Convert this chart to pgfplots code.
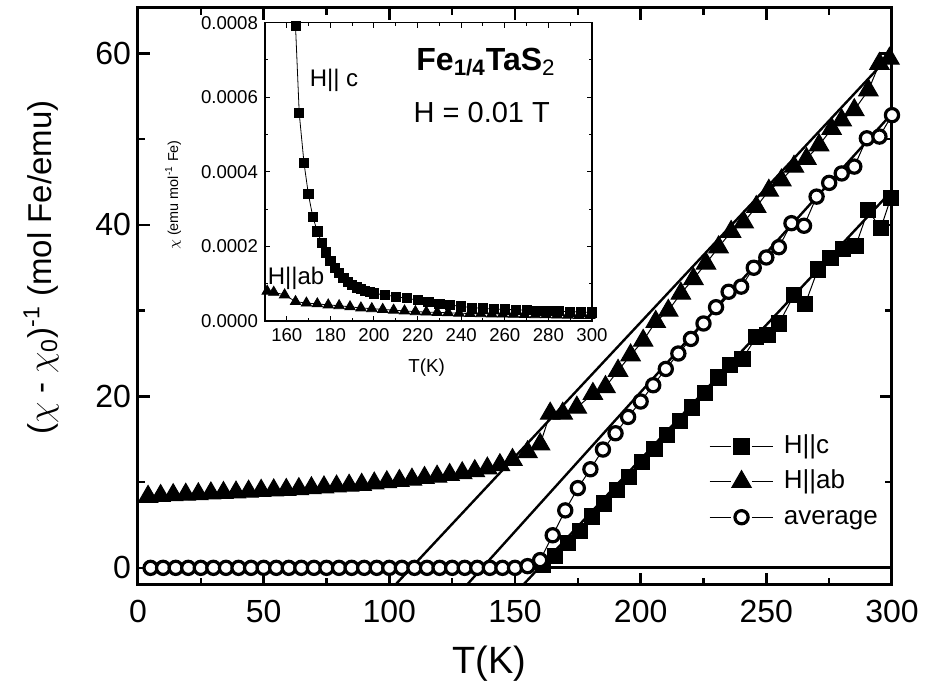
\documentclass[border=0pt]{standalone}
\usepackage{fontspec}
\setmainfont{Liberation Sans}
\usepackage{pgfplots}
\pgfplotsset{compat=1.18}
\begin{document}
\begin{tikzpicture}
\path[use as bounding box] (-69pt,-52.5pt) rectangle (395pt,292.5pt);
\begin{axis}[
  at={(0pt,0pt)}, anchor=south west,
  scale only axis, width=377pt, height=288.5pt,
  xmin=0, xmax=300, ymin=-2, ymax=65.3,
  xtick={0,50,...,300}, minor xtick={25,75,...,275},
  ytick={0,20,40,60}, minor ytick={10,30,50},
  tick align=inside, major tick length=6pt, minor tick length=3.5pt,
  axis line style={line width=1.5pt},
  tick style={line width=1.2pt, black},
  tick label style={font=\fontsize{16}{18}\selectfont},
  /pgf/number format/assume math mode=true,
  xticklabel style={yshift=-4pt},
  xlabel={T(K)},
  ylabel={($\chi$ - $\chi$\textsubscript{0})\textsuperscript{-1} (mol Fe/emu)},
  xlabel style={font=\fontsize{19}{22}\selectfont, at={(axis description cs:0.466,-0.137)}, anchor=center},
  ylabel style={font=\fontsize{16.5}{20}\selectfont, at={(axis description cs:-0.1286,0.55)}, anchor=center},
  legend style={at={(rel axis cs:0.757,0.262)}, anchor=north west, draw=none, fill=none,
    inner sep=0pt, font=\fontsize{13}{15}\selectfont, row sep=5.5pt, column sep=5pt,
    nodes={inner sep=0pt, text height=9.5pt, text depth=2.7pt}},
  legend cell align=left,
  legend image code/.code={
    \draw[mark=none] (0cm,0cm) -- (0.38cm,0cm);
    \draw[mark=none] (0.74cm,0cm) -- (1.12cm,0cm);
    \draw plot coordinates {(0.56cm,0cm)};
  },
]
% fit lines
\addplot[black, line width=1.2pt, forget plot] coordinates {(102.3,-2) (300,60.0)};
\addplot[black, line width=1.2pt, forget plot] coordinates {(130.8,-2) (300,53.0)};
\addplot[black, line width=1.2pt, forget plot] coordinates {(153.2,-2) (300,44.0)};
\addplot[black, line width=1.5pt, forget plot] coordinates {(160,0) (300,0)};
% H||c
\addplot[black, line width=0.5pt, mark=square*, mark size=3.8pt, mark options={solid, fill=black, line width=0.5pt}] coordinates {
(161,0.3) (166,1.4) (171,2.9) (176,4.3) (180.5,6.0) (185.5,7.5) (190.5,9.1) (195.5,10.6)
(200.5,12.3) (205.5,13.9) (210.5,15.5) (215.5,17.1) (220.5,18.7) (225.5,20.4) (231,22.2)
(235.5,23.7) (240.5,24.4) (246,26.9) (250.5,27.2) (255,28.5) (261,31.8) (265.5,30.8)
(270.5,34.8) (275.5,36.1) (280.5,37.2) (285.5,37.5) (290.5,41.7) (295.5,39.6) (299.5,43.1)
};
\addlegendentry{H||c}
% H||ab
\addplot[black, line width=0.5pt, mark=triangle*, mark size=5.6pt, mark options={solid, fill=black, line width=0.5pt}] coordinates {
(4,8.3) (9,8.4) (14,8.5) (19,8.55) (24,8.6) (29,8.7) (34,8.75) (39,8.8) (44,8.9) (49,9.0)
(54,9.05) (59,9.1) (64,9.2) (69,9.3) (74,9.4) (79,9.5) (84,9.6) (89,9.7) (94,9.85) (99,10.0)
(104,10.15) (109,10.3) (114,10.5) (119,10.65) (124,10.85) (129,11.05) (134,11.3) (139,11.6)
(144,12.0) (149,12.6) (155,13.5) (160,14.4) (164,18.0) (169,18.0) (174.6,18.7) (181,20.3)
(186,21.1) (191,23.0) (196,24.8) (201,26.5) (206,28.7) (211,30.0) (216,32.0) (221,33.7)
(226,35.5) (231,37.4) (236,39.2) (241,40.3) (246,42.1) (251,44.0) (256,45.2) (261,46.8)
(266,47.7) (271,49.3) (276,51.2) (280,52.2) (285,53.4) (290.6,55.7) (295,58.8) (299,59.4)
};
\addlegendentry{H||ab}
% average
\addplot[black, line width=0.5pt, mark=*, mark size=3.3pt, mark options={solid, fill=white, draw=black, line width=1.6pt}] coordinates {
(5,0) (10,0) (15,0) (20,0) (25,0) (30,0) (35,0) (40,0) (45,0) (50,0) (55,0) (60,0) (65,0)
(70,0) (75,0) (80,0) (85,0) (90,0) (95,0) (100,0) (105,0) (110,0) (115,0) (120,0) (125,0)
(130,0) (135,0) (140,0) (145,0) (150,0) (155,0.2) (160,0.9) (165,3.8) (170,6.7) (175,9.3)
(180,11.5) (185,13.8) (190,15.7) (195,17.6) (200,19.4) (205,21.3) (210,23.2) (215,25.0)
(220,26.7) (225,28.5) (230,30.4) (235,32.2) (240,32.8) (245,35.0) (250,36.2) (255,37.4)
(260,40.2) (265,39.9) (270,43.3) (275,44.9) (280,46.0) (285,46.8) (290,50.1) (295,50.3)
(300,52.8)
};
\addlegendentry{average}
\end{axis}
\begin{axis}[
  at={(63.5pt,132pt)}, anchor=south west,
  scale only axis, width=163.5pt, height=149.2pt,
  xmin=150, xmax=300, ymin=0, ymax=0.0008,
  xtick={160,180,...,300}, minor xtick={150,170,...,290},
  ytick={0,0.0002,0.0004,0.0006,0.0008},
  minor ytick={0.0001,0.0003,0.0005,0.0007},
  scaled y ticks=false,
  yticklabel style={/pgf/number format/.cd, fixed, fixed zerofill, precision=4},
  tick align=inside, major tick length=2.5pt, minor tick length=1.5pt,
  axis line style={line width=0.6pt},
  tick style={line width=0.5pt, black},
  tick label style={font=\fontsize{9.3}{10}\selectfont},
  /pgf/number format/assume math mode=true,
  xlabel={T(K)},
  ylabel={$\chi$ (emu mol\textsuperscript{-1} Fe)},
  xlabel style={font=\fontsize{9.4}{11}\selectfont, at={(axis description cs:0.494,-0.1575)}, anchor=center},
  ylabel style={font=\fontsize{7.2}{9}\selectfont, at={(axis description cs:-0.281,0.422)}, anchor=center},
]
\addplot[black, line width=0.4pt, mark=square*, mark size=2.3pt, mark options={solid, fill=black}] coordinates {
(164,7.91e-4) (165.7,5.57e-4) (167.9,4.23e-4) (169.9,3.40e-4) (171.9,2.80e-4) (174,2.40e-4)
(176,2.10e-4) (178,1.84e-4) (180,1.62e-4) (182,1.43e-4) (184,1.28e-4) (186,1.15e-4)
(188,1.05e-4) (190,9.7e-5) (192,9.0e-5) (194,8.6e-5) (196,8.1e-5) (198,7.7e-5) (200,7.4e-5)
(205,7.0e-5) (210,6.5e-5) (215,6.1e-5) (220,5.6e-5) (225,5.2e-5) (230,4.6e-5) (235,4.3e-5)
(240,3.9e-5) (245,3.6e-5) (250,3.4e-5) (255,3.2e-5) (260,3.1e-5) (265,3.0e-5) (270,2.9e-5)
(275,2.8e-5) (280,2.7e-5) (285,2.6e-5) (290,2.5e-5) (295,2.4e-5) (300,2.3e-5)
};
\addplot[black, line width=0.4pt, mark=triangle*, mark size=3pt, mark options={solid, fill=black}] coordinates {
(151,8.0e-5) (154,7.7e-5) (159,7.0e-5) (164,5.2e-5) (169,4.8e-5) (174,4.6e-5) (179,4.3e-5)
(184,4.1e-5) (189,3.8e-5) (194,3.5e-5) (199,3.3e-5) (204,3.1e-5) (209,2.9e-5) (214,2.7e-5)
(219,2.5e-5) (224,2.4e-5) (229,2.3e-5) (234,2.2e-5) (239,2.1e-5) (244,2.0e-5) (249,1.95e-5)
(254,1.9e-5) (259,1.85e-5) (264,1.8e-5) (269,1.75e-5) (274,1.7e-5) (279,1.65e-5) (284,1.6e-5)
(289,1.55e-5) (294,1.5e-5) (299,1.45e-5)
};
\node[font=\fontsize{16}{18}\selectfont\bfseries] at (rel axis cs:0.676,0.868) {Fe\textsubscript{1/4}TaS\textsubscript{\mdseries 2}};
\node[font=\fontsize{14.5}{16}\selectfont] at (rel axis cs:0.663,0.70) {H = 0.01 T};
\node[font=\fontsize{12}{14}\selectfont] at (rel axis cs:0.211,0.808) {H|| c};
\node[font=\fontsize{12}{14}\selectfont] at (rel axis cs:0.095,0.144) {H||ab};
\end{axis}
\end{tikzpicture}
\end{document}
